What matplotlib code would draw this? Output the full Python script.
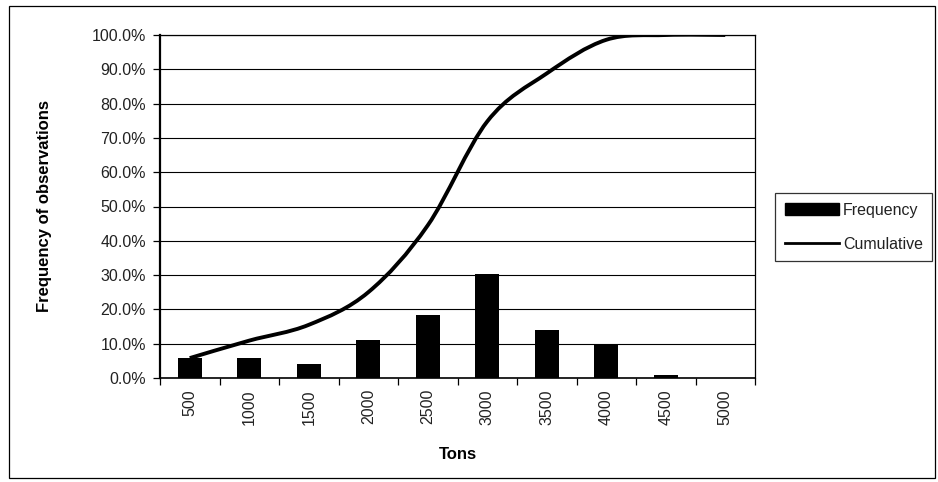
import matplotlib
matplotlib.use("Agg")
import matplotlib.pyplot as plt
from matplotlib.patches import Rectangle, PathPatch
from matplotlib.path import Path
from matplotlib.lines import Line2D
import numpy as np

plt.rcParams['font.family'] = ['Liberation Sans', 'DejaVu Sans']

categories = ["500", "1000", "1500", "2000", "2500", "3000", "3500", "4000", "4500", "5000"]
frequency = [5.8, 5.8, 4.1, 11.0, 18.3, 30.2, 14.0, 9.9, 1.0, 0.0]
cumulative = [5.8, 10.9, 15.5, 25.0, 44.5, 74.8, 88.8, 98.6, 100.0, 100.0]
yticks = [0, 10, 20, 30, 40, 50, 60, 70, 80, 90, 100]

W, H = 938, 482
fig = plt.figure(figsize=(W / 100, H / 100), dpi=100)

# outer chart border
fig.patches.append(Rectangle((9 / W, (H - 478) / H), (935 - 9) / W, (478 - 6) / H,
                             transform=fig.transFigure, fill=False, edgecolor='black', lw=0.9))

L, R, T, B = 160, 755, 35, 378
ax = fig.add_axes([L / W, (H - B) / H, (R - L) / W, (B - T) / H])

x = np.arange(len(categories))
ax.bar(x, frequency, width=0.41, color='black', zorder=3)

# smoothed cumulative line (Bezier through the data points)
pts = np.column_stack([x, cumulative]).astype(float)
n = len(pts)
verts = [tuple(pts[0])]
codes = [Path.MOVETO]
for i in range(n - 1):
    p0 = pts[i - 1] if i > 0 else pts[i]
    p1 = pts[i]
    p2 = pts[i + 1]
    p3 = pts[i + 2] if i + 2 < n else pts[i + 1]
    c1 = p1 + (p2 - p0) / 6.0
    c2 = p2 - (p3 - p1) / 6.0
    verts += [tuple(c1), tuple(c2), tuple(p2)]
    codes += [Path.CURVE4] * 3
ax.add_patch(PathPatch(Path(verts, codes), facecolor='none', edgecolor='black',
                       lw=2.8, zorder=4, capstyle='butt', joinstyle='round'))

fs = 11.5
ax.set_xlim(-0.5, len(categories) - 0.5)
ax.set_ylim(0, 100)
ax.set_yticks(yticks)
ax.set_yticklabels([f"{v:.1f}%" for v in yticks], fontsize=fs, color='#222222')
ax.yaxis.grid(True, color='black', lw=0.8, zorder=1)
ax.set_axisbelow(True)

ax.set_xticks(x)
ax.set_xticklabels(categories, rotation=90, fontsize=fs, color='#222222')
ax.set_xticks(np.arange(len(categories) + 1) - 0.5, minor=True)
ax.tick_params(axis='x', which='major', length=0, pad=8)
ax.tick_params(axis='x', which='minor', length=5, width=0.9, direction='out')
ax.tick_params(axis='y', length=5, width=0.9, direction='out', pad=5)

for s in ['top', 'right']:
    ax.spines[s].set_linewidth(0.9)
ax.spines['left'].set_linewidth(1.6)
ax.spines['bottom'].set_linewidth(1.2)

ax.set_ylabel("Frequency of observations", fontsize=12, fontweight='bold')
ax.yaxis.set_label_coords((52 - L) / (R - L), 0.5)
ax.set_xlabel("Tons", fontsize=12, fontweight='bold')
ax.xaxis.set_label_coords(0.5, (B - 447) / (B - T))

handles = [Rectangle((0, 0), 1, 1, facecolor='black', edgecolor='black'),
           Line2D([0], [0], color='black', lw=2.0)]
leg = fig.legend(handles, ["Frequency", "Cumulative"], loc='upper left',
                 bbox_to_anchor=(775 / W, (H - 193) / H), frameon=True, fancybox=False,
                 edgecolor='black', fontsize=fs, handlelength=3.4, handletextpad=0.25,
                 borderpad=0.6, labelspacing=1.2, borderaxespad=0)
leg.get_frame().set_linewidth(0.9)
for t in leg.get_texts():
    t.set_color('#222222')

fig.savefig("out.png", dpi=100)
